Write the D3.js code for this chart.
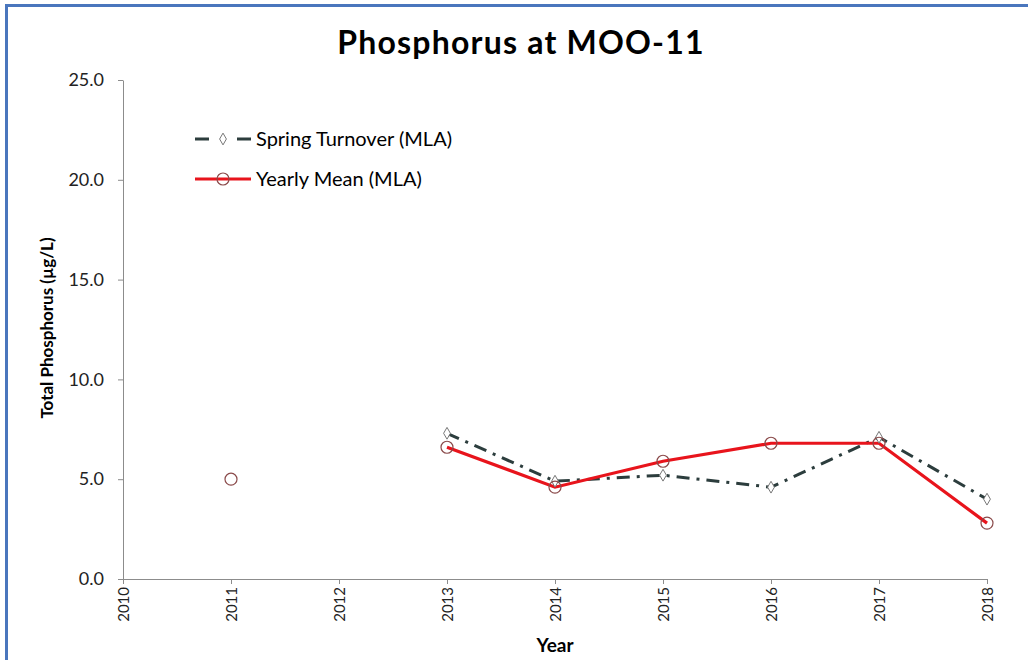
<!DOCTYPE html>
<html><head><meta charset="utf-8">
<script src="https://cdn.jsdelivr.net/npm/d3@7"></script>
<style>body{margin:0;background:#fff}svg{display:block}</style>
</head><body>
<svg id="c" width="1028" height="660"></svg>
<script>
const years = [2010, 2011, 2012, 2013, 2014, 2015, 2016, 2017, 2018];
const springYears = [2013, 2014, 2015, 2016, 2017, 2018];
const springValues = [7.3, 4.9, 5.2, 4.6, 7.1, 4.0];
const meanYears = [2011, 2013, 2014, 2015, 2016, 2017, 2018];
const meanValues = [5.0, 6.6, 4.6, 5.9, 6.8, 6.8, 2.8];
const yTicks = [0, 5, 10, 15, 20, 25];
const seriesNames = ["Spring Turnover (MLA)", "Yearly Mean (MLA)"];

const svg = d3.select("#c");
const font = "Lato, 'Open Sans', sans-serif";
svg.append("rect").attr("x",0).attr("y",0).attr("width",1028).attr("height",660).attr("fill","#fff");
svg.append("path").attr("d","M6.5,660 V5.5 H1028").attr("fill","none").attr("stroke","#4a76bd").attr("stroke-width",3);

const x = d3.scaleLinear().domain([2010, 2018]).range([123, 987]);
const y = d3.scaleLinear().domain([0, 25]).range([579, 80]);

svg.append("text").attr("x",521).attr("y",54).attr("text-anchor","middle")
  .attr("font-family",font).attr("font-weight","bold").attr("font-size",32).attr("letter-spacing",1.2).attr("fill","#000")
  .text("Phosphorus at MOO-11");

const ya = svg.append("g").attr("transform","translate(123,0)")
  .call(d3.axisLeft(y).tickValues(yTicks).tickFormat(d3.format(".1f")).tickSize(5).tickSizeOuter(0));
ya.select(".domain").attr("stroke","#8c8c8c");
ya.selectAll(".tick line").attr("stroke","#8c8c8c");
ya.selectAll(".tick text").attr("font-family",font).attr("font-size",18).attr("fill","#222").attr("x",-19);

const xa = svg.append("g").attr("transform","translate(0,579)")
  .call(d3.axisBottom(x).tickValues(years).tickFormat(d3.format("d")).tickSize(5).tickSizeOuter(0));
xa.select(".domain").attr("stroke","#8c8c8c");
xa.selectAll(".tick line").attr("stroke","#8c8c8c");
xa.selectAll(".tick text").attr("font-family",font).attr("font-size",15).attr("fill","#222")
  .attr("transform","rotate(-90)").attr("text-anchor","end").attr("x",-8).attr("y",0).attr("dy","0.35em");

svg.append("text").attr("x",555).attr("y",652).attr("text-anchor","middle")
  .attr("font-family",font).attr("font-weight","bold").attr("font-size",19).text("Year");
svg.append("text").attr("transform","translate(53,328) rotate(-90)").attr("text-anchor","middle")
  .attr("font-family",font).attr("font-weight","bold").attr("font-size",17).text("Total Phosphorus (µg/L)");

const springColor = "#2c3d3d", meanColor = "#e8141c";
const dash = "13,7,3,7";
const line = d3.line().x(d=>x(d[0])).y(d=>y(d[1]));
const spring = springYears.map((yr,i)=>[yr, springValues[i]]);
const mean = meanYears.map((yr,i)=>[yr, meanValues[i]]);
const meanLine = mean.filter(d=>d[0]>=2013);

svg.append("path").datum(spring).attr("d",line).attr("fill","none")
  .attr("stroke",springColor).attr("stroke-width",3).attr("stroke-dasharray",dash);
svg.append("path").datum(meanLine).attr("d",line).attr("fill","none")
  .attr("stroke",meanColor).attr("stroke-width",3.2);

const diamond = d3.symbol().type(d3.symbolDiamond).size(40);
svg.selectAll(".sd").data(spring).enter().append("path")
  .attr("transform",d=>`translate(${x(d[0])},${y(d[1])})`).attr("d",diamond)
  .attr("fill","#fff").attr("stroke","#777").attr("stroke-width",1);
svg.selectAll(".mc").data(mean).enter().append("circle")
  .attr("cx",d=>x(d[0])).attr("cy",d=>y(d[1])).attr("r",6)
  .attr("fill","none").attr("stroke","#8a4a4a").attr("stroke-width",1.2);

const lg = svg.append("g");
lg.append("line").attr("x1",195).attr("x2",251).attr("y1",139).attr("y2",139)
  .attr("stroke",springColor).attr("stroke-width",3).attr("stroke-dasharray","14,28,14");
lg.append("path").attr("transform","translate(223,139)").attr("d",diamond)
  .attr("fill","#fff").attr("stroke","#777").attr("stroke-width",1);
lg.append("text").attr("x",256).attr("y",146).attr("font-family",font).attr("font-size",20).text(seriesNames[0]);
lg.append("line").attr("x1",195).attr("x2",251).attr("y1",179).attr("y2",179)
  .attr("stroke",meanColor).attr("stroke-width",3.2);
lg.append("circle").attr("cx",223).attr("cy",179).attr("r",6).attr("fill","none").attr("stroke","#8a4a4a").attr("stroke-width",1.2);
lg.append("text").attr("x",256).attr("y",186).attr("font-family",font).attr("font-size",20).text(seriesNames[1]);
</script>
</body></html>
